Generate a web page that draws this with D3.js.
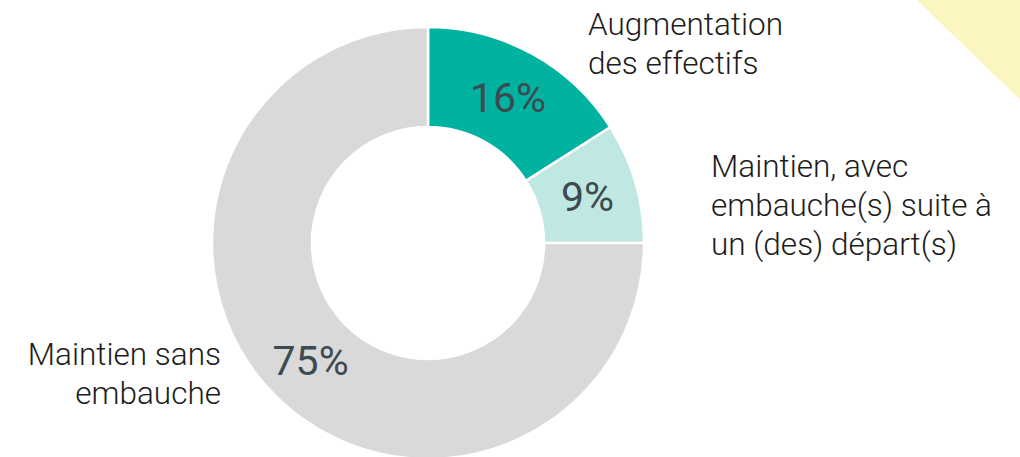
<!DOCTYPE html>
<html>
<head>
<meta charset="utf-8">
<script src="https://cdn.jsdelivr.net/npm/d3@7"></script>
<style>
  body { margin: 0; background: #fff; }
  svg { display: block; font-family: "Roboto Light", Roboto, "Noto Sans", sans-serif; }
  .pct { font-family: Roboto, "Noto Sans", sans-serif; }
</style>
</head>
<body>
<script>
// --------------------------------------------------------------------------------------
// data
// --------------------------------------------------------------------------------------
var categories = ["Augmentation des effectifs", "Maintien, avec embauche(s) suite à un (des) départ(s)", "Maintien sans embauche"];
var values = [16, 9, 75];
var label_lines = [
  ["Augmentation", "des effectifs"],
  ["Maintien, avec", "embauche(s) suite à", "un (des) départ(s)"],
  ["Maintien sans", "embauche"]
];

// --------------------------------------------------------------------------------------
var width = 1020, height = 457;
var cx = 428, cy = 243;
var outer = 216, inner = 116;
var colors = ["#00b2a0", "#bfe8e2", "#d9d9d9"];

// label placement: [x, first baseline, anchor]
var label_pos = [
  [588, 35, "start"],
  [711, 177, "start"],
  [221, 365, "end"]
];
var line_h = 39;

var svg = d3.select("body").append("svg")
    .attr("width", width)
    .attr("height", height);

// yellow corner
svg.append("path")
    .attr("d", "M917,0 L" + width + ",0 L" + width + ",100 Z")
    .attr("fill", "#fbf6c0");

var pie = d3.pie().sort(null).value(function(d) { return d; });
var arc = d3.arc().innerRadius(inner).outerRadius(outer);
var arcs = pie(values);

var g = svg.append("g").attr("transform", "translate(" + cx + "," + cy + ")");

g.selectAll("path.slice")
    .data(arcs)
    .enter()
    .append("path")
    .attr("class", "slice")
    .attr("d", arc)
    .attr("fill", function(d, i) { return colors[i]; })
    .attr("stroke", "#fff")
    .attr("stroke-width", 2.5);

g.selectAll("text.pct")
    .data(arcs)
    .enter()
    .append("text")
    .attr("class", "pct")
    .attr("transform", function(d) { return "translate(" + arc.centroid(d) + ")"; })
    .attr("dy", "0.36em")
    .attr("text-anchor", "middle")
    .attr("font-size", 41)
    .attr("fill", "#3e4a51")
    .text(function(d) { return d.data + "%"; });

// category labels
var labels = svg.selectAll("text.cat")
    .data(label_lines)
    .enter()
    .append("text")
    .attr("class", "cat")
    .attr("x", function(d, i) { return label_pos[i][0]; })
    .attr("y", function(d, i) { return label_pos[i][1]; })
    .attr("text-anchor", function(d, i) { return label_pos[i][2]; })
    .attr("font-size", 31.5)
    .attr("font-weight", 300)
    .attr("fill", "#1c1c1c");

labels.selectAll("tspan")
    .data(function(d, i) { return d.map(function(t) { return { t: t, x: label_pos[i][0] }; }); })
    .enter()
    .append("tspan")
    .attr("x", function(d) { return d.x; })
    .attr("dy", function(d, j) { return j == 0 ? 0 : line_h; })
    .text(function(d) { return d.t; });
</script>
</body>
</html>
